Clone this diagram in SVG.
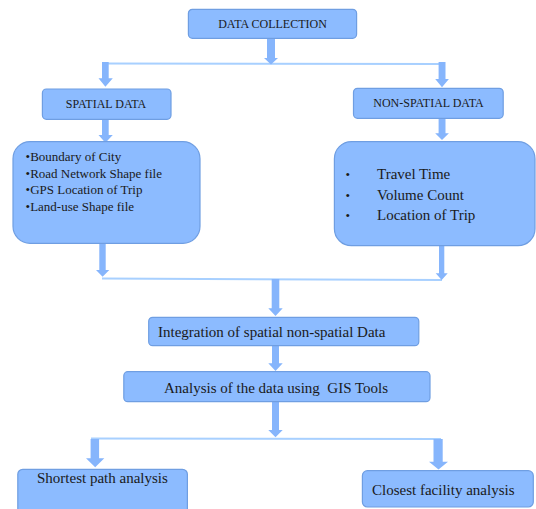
<svg xmlns="http://www.w3.org/2000/svg" width="536" height="509" viewBox="0 0 536 509">
<style>
.box{fill:#8CBBFF;stroke:#6F9EE2;stroke-width:1.2}
.arr{fill:#86B5FC}
.hl{stroke:#A8D0FF;stroke-width:2;fill:none}
text{font-family:"Liberation Serif","Times New Roman",serif;fill:#1a1a1a}
.s12{font-size:12px}
.s13{font-size:13px}
.s15{font-size:15px}
.c{text-anchor:middle}
</style>
<rect width="536" height="509" fill="#ffffff"/>
<g id="connectors">
<line class="hl" x1="102" y1="63.5" x2="443" y2="64"/>
<line class="hl" x1="102" y1="278.5" x2="442" y2="280"/>
<line class="hl" x1="91" y1="438.5" x2="441" y2="439"/>
<polygon class="arr" points="267,38 275,38 275,58 278,58 271,64.5 264,58 267,58"/>
<polygon class="arr" points="102,62 108.7,62 108.7,78.3 112.8,78.3 105.4,86.7 98.5,78.3 102,78.3"/>
<polygon class="arr" points="438.6,62 445.5,62 445.5,79 448.9,79 442,87.3 435.2,79 438.6,79"/>
<polygon class="arr" points="102,119 108.7,119 108.7,135 112.8,135 105.4,142.7 98.5,135 102,135"/>
<polygon class="arr" points="438.6,118 445.5,118 445.5,133.3 448.9,133.3 442,140 435.2,133.3 438.6,133.3"/>
<polygon class="arr" points="99.3,243 105.7,243 105.7,270 109.3,270 102.6,276.7 96,270 99.3,270"/>
<polygon class="arr" points="439,245 444.3,245 444.3,273.3 447.7,273.3 441.7,280 435.7,273.3 439,273.3"/>
<polygon class="arr" points="271.7,279 279.3,279 279.3,308.3 282.7,308.3 275.5,316 268.3,308.3 271.7,308.3"/>
<polygon class="arr" points="272,345.5 279,345.5 279,363.3 282.7,363.3 275.5,371 268.3,363.3 272,363.3"/>
<polygon class="arr" points="272,401.5 279,401.5 279,430 282.7,430 275.5,437.3 268.3,430 272,430"/>
<polygon class="arr" points="90.6,439 99.1,439 99.1,458.3 104.3,458.3 95.2,467.3 86,458.3 90.6,458.3"/>
<polygon class="arr" points="433.5,439 442.7,439 442.7,461.7 448,461.7 438.5,469.5 429,461.7 433.5,461.7"/>
</g>
<g id="data-collection">
<rect class="box" x="188.4" y="9.3" width="168.2" height="29" rx="4"/>
<text class="s12 c" x="272.5" y="28.3">DATA COLLECTION</text>
</g>
<g id="spatial-data">
<rect class="box" x="42.4" y="89" width="128.6" height="30.3" rx="4"/>
<text class="s12 c" x="106" y="108.3">SPATIAL DATA</text>
</g>
<g id="non-spatial-data">
<rect class="box" x="353.5" y="88.3" width="149.7" height="30" rx="4"/>
<text class="s12 c" x="428.5" y="107.3">NON-SPATIAL DATA</text>
</g>
<g id="spatial-items">
<rect class="box" x="13" y="141.7" width="187" height="101.6" rx="17"/>
<text class="s13" x="25.6" y="161.2">•Boundary of City</text>
<text class="s13" x="25.6" y="177.8">•Road Network Shape file</text>
<text class="s13" x="25.6" y="193.8">•GPS Location of Trip</text>
<text class="s13" x="25.6" y="210.5">•Land-use Shape file</text>
</g>
<g id="non-spatial-items">
<rect class="box" x="334.4" y="141.7" width="200.6" height="104" rx="17"/>
<text class="s13" x="345.5" y="179">•</text>
<text class="s15" x="377" y="179">Travel Time</text>
<text class="s13" x="345.5" y="200">•</text>
<text class="s15" x="377" y="200">Volume Count</text>
<text class="s13" x="345.5" y="220">•</text>
<text class="s15" x="377" y="220">Location of Trip</text>
</g>
<g id="integration">
<rect class="box" x="148.7" y="317.3" width="270.1" height="28.4" rx="4"/>
<text class="s15" x="158" y="337.3">Integration of spatial non-spatial Data</text>
</g>
<g id="analysis">
<rect class="box" x="123.8" y="371.7" width="306.2" height="30" rx="4"/>
<text class="s15" x="164" y="392.5" xml:space="preserve">Analysis of the data using  GIS Tools</text>
</g>
<g id="shortest-path">
<rect class="box" x="17.8" y="469.3" width="169.6" height="45" rx="5"/>
<text class="s15" x="37" y="482.5">Shortest path analysis</text>
</g>
<g id="closest-facility">
<rect class="box" x="362.4" y="470.7" width="170.9" height="36.3" rx="5"/>
<text class="s15" x="372" y="495.2">Closest facility analysis</text>
</g>
</svg>
